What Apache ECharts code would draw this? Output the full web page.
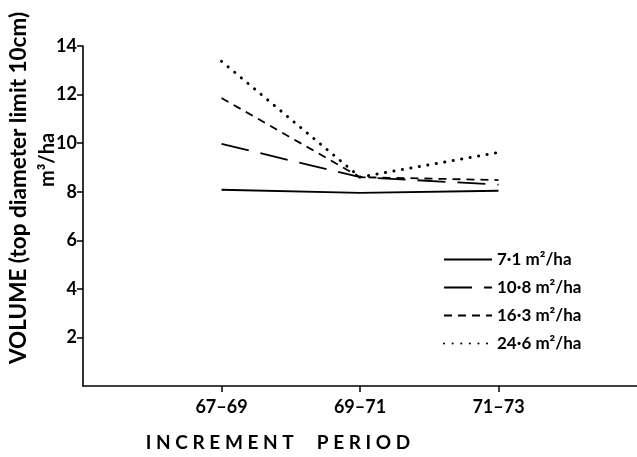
<!DOCTYPE html>
<html>
<head>
<meta charset="utf-8">
<script src="https://cdn.jsdelivr.net/npm/echarts@6/dist/echarts.min.js"></script>
<style>html,body{margin:0;padding:0;background:#fff;}#c{width:637px;height:457px;}</style>
</head>
<body>
<div id="c"></div>
<script>
// Data
const periods = ['67–69', '69–71', '71–73'];
const periodPos = [1, 2, 3];
const yTicks = [2, 4, 6, 8, 10, 12, 14];
const seriesNames = ['7·1 m²/ha', '10·8 m²/ha', '16·3 m²/ha', '24·6 m²/ha'];
const vol71 = [8.08, 7.95, 8.04];
const vol108 = [9.97, 8.6, 8.29];
const vol163 = [11.86, 8.6, 8.48];
const vol246 = [13.37, 8.6, 9.62];

const FONT = 'Lato';
const chart = echarts.init(document.getElementById('c'), null, {renderer: 'canvas'});

function pts(vals) { return vals.map((v, i) => [periodPos[i], v]); }
const dashes = ['solid', [28, 12], [8, 6], [0.1, 8.5]];
const widths = [1.8, 1.8, 1.8, 3];
const allVals = [vol71, vol108, vol163, vol246];

chart.setOption({
  animation: false,
  backgroundColor: '#fff',
  grid: {left: 83, right: 0, top: 46, bottom: 71, containLabel: false},
  xAxis: {
    type: 'value', min: 0, max: 4, interval: 1,
    splitLine: {show: false},
    axisLine: {lineStyle: {color: '#000', width: 1.6}},
    axisTick: {customValues: periodPos, length: 6, lineStyle: {color: '#000', width: 1.5}},
    axisLabel: {
      customValues: periodPos,
      formatter: v => periods[periodPos.indexOf(v)] || '',
      color: '#000', fontFamily: FONT, fontWeight: 'bold', fontSize: 18, margin: 12
    }
  },
  yAxis: {
    type: 'value', min: 0, max: 14, interval: 2,
    splitLine: {show: false},
    axisLine: {lineStyle: {color: '#000', width: 1.6}},
    axisTick: {customValues: yTicks, length: 6, lineStyle: {color: '#000', width: 1.5}},
    axisLabel: {customValues: yTicks, color: '#000', fontFamily: FONT, fontWeight: 'bold', fontSize: 18, margin: 6}
  },
  legend: {
    orient: 'vertical', left: 438, top: 246,
    itemWidth: 48, itemHeight: 14, itemGap: 11,
    itemStyle: {opacity: 0},
    textStyle: {color: '#000', fontFamily: FONT, fontWeight: 'bold', fontSize: 17},
    data: seriesNames
  },
  series: seriesNames.map((n, i) => ({
    name: n, type: 'line', data: pts(allVals[i]),
    symbol: 'none', color: '#000',
    lineStyle: {color: '#000', width: widths[i], type: dashes[i], cap: i === 3 ? 'round' : 'butt'}
  })),
  graphic: [
    {type: 'text', x: 19, y: 188, rotation: Math.PI / 2,
     style: {text: 'VOLUME (top diameter limit 10cm)', fill: '#000', font: 'bold 22.5px Lato', align: 'center', verticalAlign: 'middle'}},
    {type: 'text', x: 48, y: 160, rotation: Math.PI / 2,
     style: {text: 'm³/ha', fill: '#000', font: 'bold 20px Lato', align: 'center', verticalAlign: 'middle'}},
    {type: 'text', x: 278, y: 443,
     style: {text: 'I N C R E M E N T     P E R I O D', fill: '#000', font: 'bold 19px Lato', align: 'center', verticalAlign: 'middle'}}
  ]
});
</script>
</body>
</html>
